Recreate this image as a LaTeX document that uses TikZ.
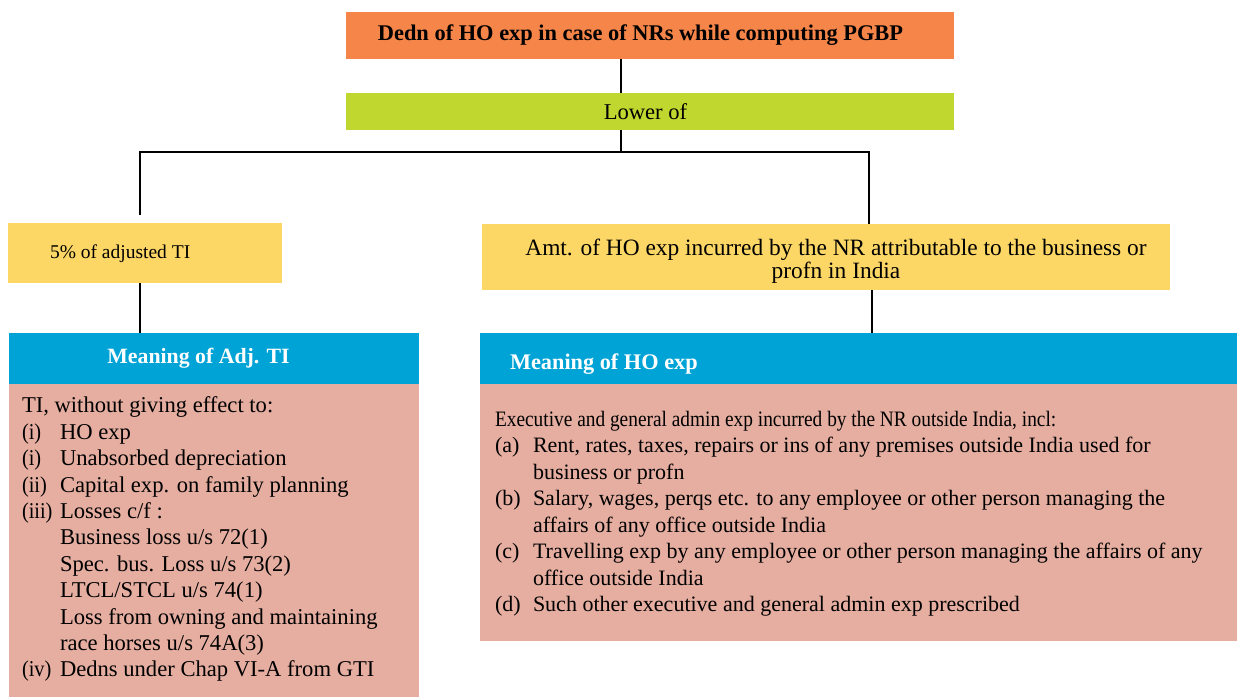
\documentclass[tikz,border=0pt]{standalone}
\usepackage{fontspec}
\setmainfont{Liberation Serif}
\usepackage{array}
\usepackage{graphicx}
\newcommand{\lablab}[1]{\scalebox{0.9}[1]{#1}}
\definecolor{orangeC}{HTML}{F58549}
\definecolor{greenC}{HTML}{C0D730}
\definecolor{yellowC}{HTML}{FCD766}
\definecolor{blueC}{HTML}{00A3D6}
\definecolor{pinkC}{HTML}{E5AEA1}
\tikzset{
  box/.style={inner sep=0pt, outer sep=0pt, draw=none},
  conn/.style={line width=2.6pt, black},
  txt/.style={inner sep=0pt, outer sep=0pt}
}
\begin{document}
\begin{tikzpicture}[x=1pt,y=-1pt]
\useasboundingbox (0,0) rectangle (1242,697);
% boxes
\node[box, fill=orangeC, minimum width=608pt, minimum height=47pt] (top) at (650,35.5)
  {\raisebox{-3pt}{\fontsize{22.4}{24}\selectfont\bfseries Dedn of HO exp in case of NRs while computing PGBP}\hspace*{19pt}};
\node[box, fill=greenC, minimum width=608pt, minimum height=37pt] (lower) at (650,111.5)
  {\raisebox{-1pt}{\fontsize{22.6}{24}\selectfont Lower of}\hspace*{9pt}};
\node[box, fill=yellowC, minimum width=274pt, minimum height=60pt] (lbox) at (145,253) {};
\node[txt, anchor=west] (ltxt) at (50,254) {\fontsize{19.5}{24}\selectfont 5\% of adjusted TI};
\node[box, fill=yellowC, minimum width=688pt, minimum height=66pt] (rbox) at (826,257) {};
\node[txt, align=center, font=\fontsize{23.4}{22.5}\selectfont] (rtxt) at (836,261)
  {Amt. of HO exp incurred by the NR attributable to the business or\\ profn in India};
% headers and bodies
\node[box, fill=blueC, minimum width=410pt, minimum height=51pt] (lhead) at (214,358.5)
  {\raisebox{-3pt}{\fontsize{21.8}{24}\selectfont\bfseries\color{white}Meaning of Adj. TI}\hspace*{31pt}};
\node[box, fill=pinkC, minimum width=410pt, minimum height=313pt, anchor=north] (lbody) at (214,384) {};
\node[box, fill=blueC, minimum width=757pt, minimum height=51pt] (rhead) at (858.5,358.5) {};
\node[txt, anchor=west] (rhtxt) at (510,364) {\fontsize{22.3}{24}\selectfont\bfseries\color{white}Meaning of HO exp};
\node[box, fill=pinkC, minimum width=757pt, minimum height=257pt, anchor=north] (rbody) at (858.5,384) {};
% body texts
\node[txt, anchor=north west, font=\fontsize{22.6}{26.4}\selectfont] (ltext) at (22,394.5)
  {\begin{tabular}{@{}p{38pt}@{}l@{}}
   \multicolumn{2}{@{}l@{}}{TI, without giving effect to:}\\
   \lablab{(i)} & HO exp\\
   \lablab{(i)} & Unabsorbed depreciation\\
   \lablab{(ii)} & Capital exp. on family planning\\
   \lablab{(iii)} & Losses c/f :\\
   & Business loss u/s 72(1)\\
   & Spec. bus. Loss u/s 73(2)\\
   & LTCL/STCL u/s 74(1)\\
   & Loss from owning and maintaining\\
   & race horses u/s 74A(3)\\
   \lablab{(iv)} & Dedns under Chap VI-A from GTI
  \end{tabular}};
\node[txt, anchor=north west, font=\fontsize{22}{26.5}\selectfont] (rtext) at (495,407.5)
  {\begin{tabular}{@{}p{38pt}@{}l@{}}
   \multicolumn{2}{@{}l@{}}{\scalebox{0.88}[1]{Executive and general admin exp incurred by the NR outside India, incl:}}\\
   (a) & Rent, rates, taxes, repairs or ins of any premises outside India used for\\
   & business or profn\\
   (b) & Salary, wages, perqs etc. to any employee or other person managing the\\
   & affairs of any office outside India\\
   (c) & Travelling exp by any employee or other person managing the affairs of any\\
   & office outside India\\
   (d) & Such other executive and general admin exp prescribed
  \end{tabular}};
% connectors
\coordinate (jm) at (621,152);
\coordinate (jl) at (140,152);
\coordinate (jr) at (869,152);
\coordinate (xr) at (872,0);
\draw[conn] (top.south -| jm) -- (lower.north -| jm);
\draw[conn] (lower.south -| jm) -- (jm);
\draw[conn] ([yshift=8pt]lbox.north -| jl) -- (jl) -- (jr) -- (rbox.north -| jr);
\draw[conn] (lbox.south -| jl) -- (lhead.north -| jl);
\draw[conn] (rbox.south -| xr) -- (rhead.north -| xr);
\end{tikzpicture}
\end{document}
